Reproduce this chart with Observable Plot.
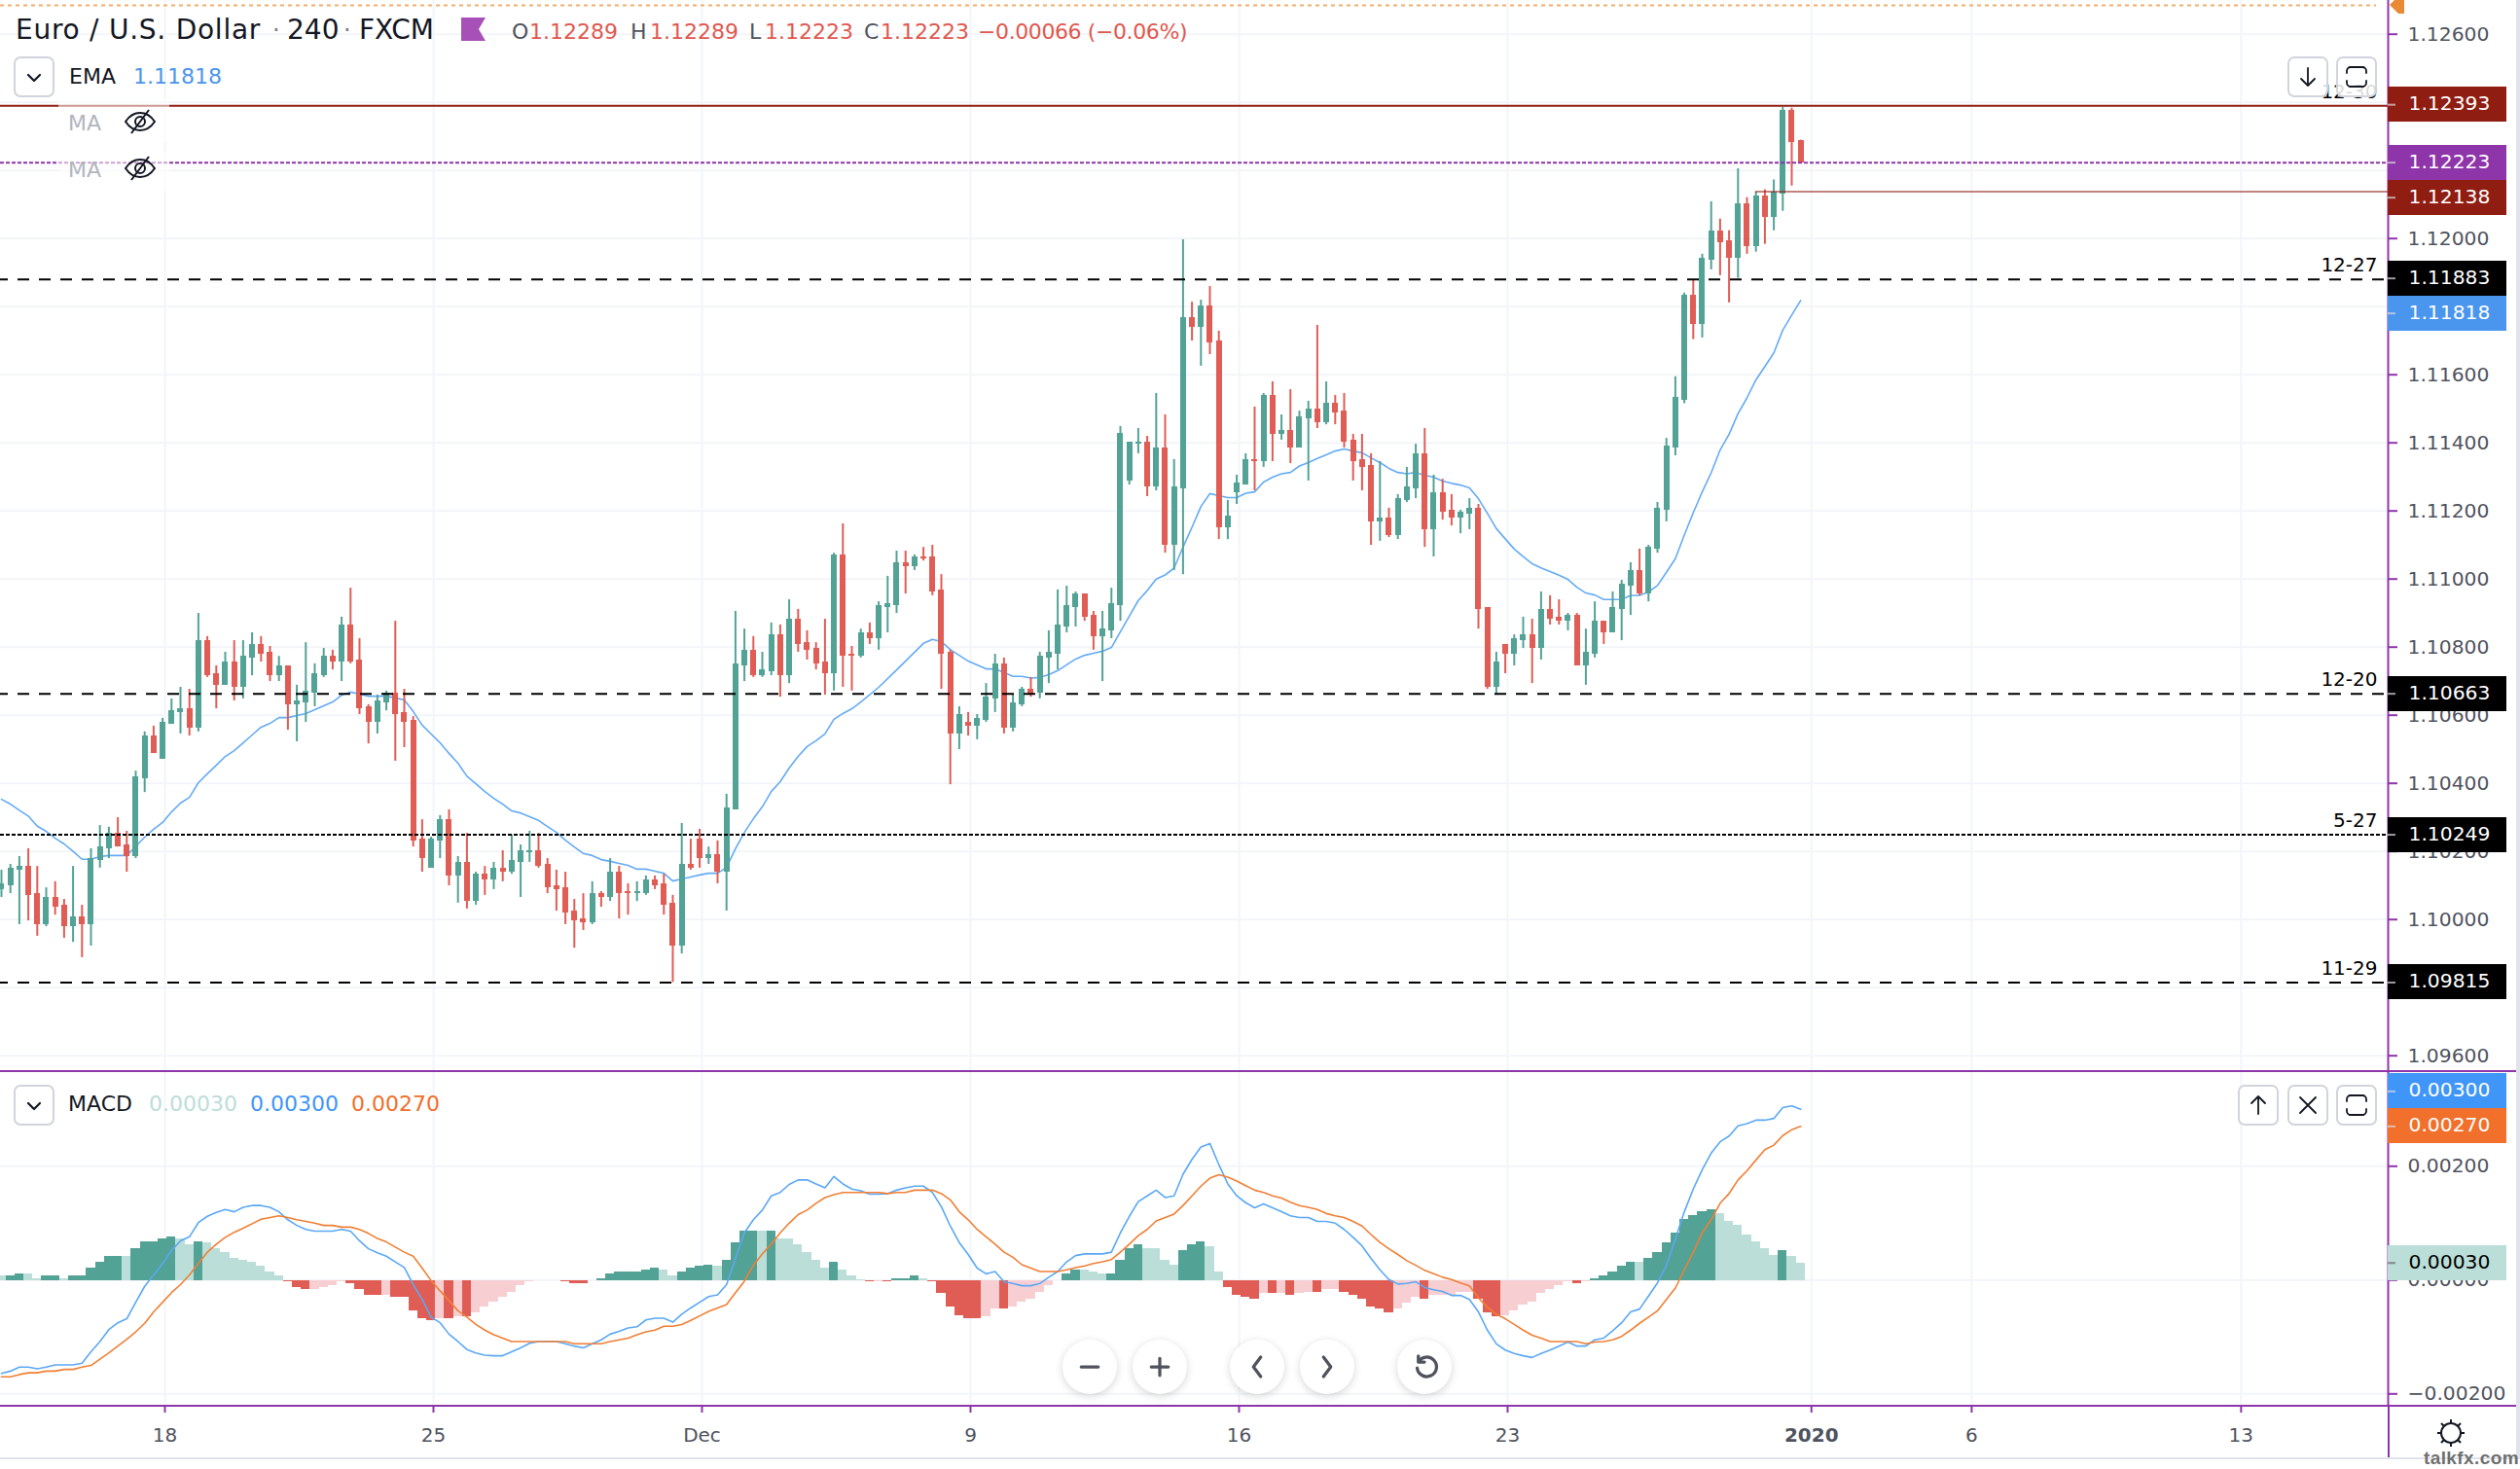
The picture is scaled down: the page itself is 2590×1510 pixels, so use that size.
<!DOCTYPE html>
<html><head><meta charset="utf-8">
<script src="https://cdn.jsdelivr.net/npm/d3@7"></script>
<script src="https://cdn.jsdelivr.net/npm/@observablehq/plot@0.6"></script>
<style>
html,body{margin:0;padding:0;background:#fff}
#page{position:relative;width:2590px;height:1510px;overflow:hidden;background:#fff;font-family:"DejaVu Sans",sans-serif;color:#131722}
#page>div.p{position:absolute;left:0}
.t{position:absolute;white-space:nowrap;line-height:1;z-index:5}
.btn{position:absolute;width:38px;height:38px;border:2px solid #d1d4dc;border-radius:7px;background:rgba(255,255,255,.85);z-index:6;display:flex;align-items:center;justify-content:center}
.line{position:absolute;z-index:4}
.round{position:absolute;width:56px;height:56px;border-radius:50%;background:#fff;box-shadow:0 2px 8px rgba(0,0,0,.16);z-index:6;display:flex;align-items:center;justify-content:center}
svg{display:block}
</style></head><body>
<div id="page">
<div class="p" id="main" style="top:0"></div>
<div class="p" id="macd" style="top:1101px"></div>
</div>
<script>
// All prices are in 1e-5 units (pipettes). One entry per 4-hour bar.
const opens=[110087,110099,110145,110156,110076,109985,110065,110042,109979,110008,
109985,110173,110208,110253,110219,110185,110413,110539,110471,110573,
110608,110619,110562,110819,110722,110688,110756,110682,110768,110808,
110785,110716,110745,110631,110636,110665,110716,110773,110756,110865,
110762,110625,110579,110636,110665,110608,110585,110236,110151,110231,
110293,110128,110168,110053,110133,110116,110151,110139,110168,110196,
110202,110162,110099,110093,110025,110002,109991,110076,110065,110139,
110082,110076,110076,110116,110105,110048,109922,110162,110236,110179,
110191,110139,110322,110745,110791,110716,110728,110836,110716,110882,
110813,110796,110756,110722,111071,110779,110773,110842,110825,110916,
110922,111048,111036,111065,111065,110968,110785,110545,110579,110568,
110585,110648,110751,110562,110631,110676,110665,110768,110779,110859,
110916,110956,110893,110831,110848,110922,111288,111396,111402,111271,
111385,111099,111265,111768,111739,111802,111699,111151,111253,111276,
111351,111345,111539,111425,111436,111385,111471,111499,111459,111516,
111493,111408,111351,111333,111168,111179,111128,111231,111265,111368,
111145,111253,111202,111179,111191,111208,110916,110682,110808,110779,
110819,110836,110796,110911,110888,110876,110893,110745,110779,110876,
110842,110911,110979,111025,110956,111088,111202,111385,111526,111834,
111748,111937,112023,111994,111943,112103,111977,112126,112062,112132,
112377,112289];
const highs=[110145,110162,110185,110208,110156,110093,110111,110059,110156,110042,
110208,110276,110271,110299,110259,110436,110551,110568,110591,110648,
110682,110676,110899,110831,110745,110785,110819,110819,110842,110831,
110802,110773,110745,110688,110813,110751,110796,110791,110888,110973,
110825,110631,110659,110671,110876,110676,110596,110293,110242,110305,
110322,110185,110253,110139,110156,110168,110202,110248,110219,110259,
110253,110179,110145,110139,110059,110076,110111,110082,110179,110156,
110105,110111,110128,110128,110133,110071,110282,110236,110265,110213,
110231,110368,110905,110853,110831,110785,110871,110865,110939,110911,
110848,110813,110882,111076,111162,110802,110853,110871,110933,111008,
111082,111082,111071,111093,111099,111013,110791,110625,110608,110602,
110693,110779,110768,110659,110682,110711,110785,110848,110968,110979,
110962,110956,110905,110905,110973,111448,111402,111442,111419,111545,
111482,111351,111996,111813,111819,111859,111728,111231,111305,111368,
111505,111545,111579,111482,111556,111493,111522,111745,111579,111539,
111545,111425,111425,111368,111345,111208,111248,111328,111396,111442,
111305,111293,111248,111202,111236,111219,110916,110785,110808,110836,
110888,110882,110962,110951,110939,110899,110899,110853,110933,110876,
110962,110996,111048,111088,111099,111225,111413,111594,111840,111877,
111954,112108,112057,112023,112205,112120,112137,112143,112172,112385,
112383,112289];
const lows=[110065,110076,109985,109996,109951,109979,110013,109945,109933,109888,
109922,110151,110179,110213,110139,110179,110373,110488,110471,110573,
110545,110539,110551,110711,110619,110688,110642,110648,110716,110756,
110699,110699,110556,110522,110579,110625,110711,110733,110699,110751,
110602,110516,110545,110613,110465,110505,110213,110139,110151,110179,
110099,110048,110031,110042,110071,110088,110111,110133,110065,110168,
110151,110076,110025,109985,109916,109968,109985,110036,110053,110002,
110013,110053,110071,110088,110013,109815,109899,110145,110151,110162,
110105,110025,110322,110699,110711,110711,110716,110653,110693,110785,
110762,110733,110659,110671,110682,110671,110768,110808,110791,110842,
110899,110956,111025,111053,110951,110676,110396,110499,110539,110528,
110579,110608,110545,110551,110625,110653,110648,110693,110733,110842,
110859,110876,110791,110699,110825,110876,111276,111368,111242,111259,
111076,111025,111013,111699,111625,111659,111116,111116,111219,111276,
111259,111328,111345,111408,111339,111385,111288,111442,111453,111453,
111385,111288,111259,111099,111111,111122,111116,111225,111236,111093,
111065,111173,111156,111133,111145,110853,110676,110659,110722,110745,
110796,110693,110762,110865,110865,110848,110745,110688,110768,110808,
110842,110819,110893,110951,110933,111076,111168,111362,111515,111703,
111708,111908,111891,111811,111883,111954,111960,111983,112023,112080,
112154,112223];
const closes=[110104,110151,110156,110071,109985,110065,110036,109979,110008,109985,
110179,110213,110253,110213,110185,110419,110539,110488,110579,110613,
110619,110562,110819,110716,110688,110756,110682,110773,110808,110779,
110716,110745,110631,110642,110671,110722,110773,110756,110865,110756,
110619,110579,110642,110665,110602,110579,110231,110179,110236,110293,
110128,110168,110053,110133,110116,110151,110139,110173,110202,110202,
110156,110093,110088,110019,109996,109991,110076,110065,110139,110076,
110076,110082,110116,110099,110042,109922,110162,110151,110179,110191,
110139,110328,110751,110791,110716,110733,110836,110716,110882,110808,
110791,110751,110722,111071,110773,110773,110842,110825,110922,110928,
111048,111036,111065,111059,110962,110779,110545,110602,110568,110591,
110653,110751,110562,110636,110676,110659,110773,110785,110865,110922,
110956,110888,110831,110853,110928,111428,111402,111402,111271,111385,
111099,111271,111768,111739,111802,111693,111151,111185,111282,111351,
111345,111539,111425,111436,111385,111476,111499,111459,111516,111488,
111402,111345,111328,111168,111179,111128,111236,111271,111368,111145,
111253,111196,111179,111196,111208,110911,110682,110756,110779,110825,
110836,110796,110911,110882,110876,110893,110745,110785,110876,110842,
110916,110985,111025,110956,111093,111208,111391,111533,111834,111748,
111943,112023,111989,111943,112103,111977,112126,112062,112137,112377,
112281,112223];

// EMA readings: bar number and value
const emaBars=[0,1,2,3,4,5,6,7,8,9,10,11,12,13,14,15,16,17,18,19,20,21,22,23,24,25,26,27,28,29,30,31,32,33,34,35,36,37,38,39,40,41,42,43,44,45,46,47,48,49,50,51,52,53,54,55,56,57,58,59,60,61,62,63,64,65,66,67,68,69,70,71,72,73,74,75,76,77,78,79,80,81,82,83,84,85,86,87,88,89,90,91,92,93,94,95,96,98,100,103,104,105,106,107,108,110,111,113,114,115,116,117,118,119,120,121,122,123,124,125,126,127,128,129,130,131,132,133,134,135,136,137,138,139,140,141,142,143,144,145,146,147,148,149,150,151,152,153,154,155,156,157,158,159,160,161,162,163,164,165,166,167,168,169,170,171,172,173,174,175,176,177,178,179,180,181,182,183,184,185,186,187,188,189,190,191,192,193,194,195,196,197,198,199,200,201];
const emaValues=[110353,110339,110321,110304,110274,110259,110239,110222,110200,110177,110177,110185,110188,110188,110188,110215,110242,110265,110285,110316,110342,110359,110402,110428,110453,110479,110496,110519,110542,110565,110576,110593,110593,110599,110605,110616,110628,110639,110659,110668,110662,110656,110656,110656,110651,110645,110611,110571,110545,110519,110488,110459,110421,110399,110376,110356,110339,110319,110313,110302,110291,110273,110256,110233,110213,110194,110188,110176,110171,110165,110159,110148,110148,110142,110136,110113,110119,110125,110131,110136,110136,110153,110208,110256,110296,110331,110376,110405,110445,110479,110508,110525,110545,110588,110605,110619,110639,110682,110733,110811,110823,110816,110793,110776,110759,110736,110736,110714,110714,110709,110711,110719,110731,110748,110765,110776,110782,110788,110799,110845,110891,110937,110966,111000,111012,111032,111094,111152,111213,111251,111245,111239,111239,111252,111256,111285,111299,111309,111313,111332,111342,111354,111365,111376,111382,111376,111371,111356,111342,111325,111313,111309,111313,111305,111299,111288,111281,111276,111268,111236,111193,111148,111118,111088,111066,111045,111033,111022,111011,110999,110976,110959,110953,110940,110940,110940,110952,110952,110962,110981,111020,111060,111129,111195,111256,111312,111379,111425,111486,111532,111585,111624,111664,111731,111775,111818];

// MACD pane, 1e-5 units, one entry per bar
const histogram=[7,7,10,10,3,7,7,3,7,7,
21,31,41,41,41,55,68,68,72,75,
72,62,68,65,55,48,38,34,31,24,
14,7,-3,-14,-17,-17,-14,-10,-3,-7,
-17,-27,-27,-27,-31,-31,-55,-68,-72,-68,
-68,-65,-65,-58,-48,-38,-31,-21,-10,-3,
-1,-1,-1,-3,-7,-7,-1,3,10,14,
14,14,17,21,17,7,14,21,24,27,
24,34,65,86,86,86,86,72,72,62,
48,34,21,31,17,7,1,-3,-3,-3,
3,3,7,3,-3,-24,-48,-62,-68,-68,
-65,-51,-51,-48,-38,-34,-21,-10,-1,10,
17,17,14,10,10,34,55,62,55,55,
34,27,51,62,68,58,14,-14,-27,-31,
-34,-24,-24,-24,-27,-24,-21,-21,-17,-17,
-21,-27,-34,-48,-51,-58,-51,-41,-31,-34,
-27,-27,-27,-21,-21,-34,-58,-65,-62,-55,
-44,-38,-24,-17,-10,-3,-7,-3,3,7,
14,24,31,31,38,48,65,82,106,113,
120,123,116,103,96,79,68,55,44,51,
41,30];
const histGrowing=[0,1,1,0,0,1,1,0,1,1,
1,1,1,1,0,1,1,1,1,1,
0,0,1,0,0,0,0,0,0,0,
0,0,1,1,1,0,0,0,0,1,
1,1,1,0,1,1,1,1,1,0,
1,0,1,0,0,0,0,0,0,0,
0,0,0,1,1,1,0,1,1,1,
1,1,1,1,0,0,1,1,1,1,
0,1,1,1,1,0,1,0,0,0,
0,0,0,1,0,0,0,1,0,1,
1,1,1,0,1,1,1,1,1,1,
0,0,1,0,0,0,0,0,0,1,
1,0,0,0,1,1,1,1,0,0,
0,0,1,1,1,0,0,1,1,1,
1,0,1,0,1,0,0,1,0,0,
1,1,1,1,1,1,0,0,0,1,
0,0,0,0,0,1,1,1,0,0,
0,0,0,0,0,0,1,0,1,1,
1,1,1,0,1,1,1,1,1,1,
1,1,0,0,0,0,0,0,0,1,
0,0];
const macdLine=[-164,-160,-153,-153,-156,-153,-149,-149,-149,-146,
-126,-108,-87,-75,-68,-39,-11,9,29,52,
69,76,101,112,119,124,120,128,131,131,
128,120,106,96,89,86,86,86,89,86,
69,55,48,42,32,22,-8,-34,-65,-75,
-95,-108,-122,-128,-132,-133,-133,-126,-119,-111,
-108,-108,-108,-112,-116,-119,-112,-105,-95,-90,
-84,-82,-70,-67,-67,-74,-60,-49,-39,-29,
-26,-8,38,83,106,123,148,154,168,176,
176,169,162,182,169,160,157,151,151,152,
158,162,165,165,154,129,95,66,45,21,
11,15,-3,-6,-10,-10,-6,5,15,32,
43,46,46,46,49,83,112,138,148,158,
145,148,186,212,234,240,203,169,148,136,
127,134,127,120,113,110,110,103,103,100,
89,75,60,38,18,1,-7,-6,-3,-13,
-17,-20,-27,-27,-34,-56,-88,-112,-123,-129,
-133,-136,-129,-123,-116,-109,-116,-116,-105,-102,
-89,-75,-56,-51,-28,-5,26,72,120,160,
194,223,243,253,271,275,281,281,284,303,
306,300];
const signalLine=[-170,-170,-166,-163,-163,-160,-160,-157,-157,-153,
-150,-139,-128,-116,-104,-91,-76,-56,-39,-22,
-8,9,29,49,63,75,84,91,99,107,
110,113,110,106,103,100,96,96,93,93,
89,82,73,67,58,49,42,21,-1,-19,
-36,-54,-65,-78,-88,-96,-102,-108,-108,-108,
-108,-108,-108,-108,-112,-112,-112,-112,-108,-105,
-102,-96,-91,-88,-81,-81,-78,-71,-63,-55,
-49,-43,-22,-2,26,46,63,83,100,115,
123,135,145,150,154,154,154,154,154,152,
154,154,158,158,158,152,141,120,106,89,
76,63,49,40,27,21,15,15,15,18,
22,25,29,32,36,49,63,78,89,104,
110,116,131,148,165,179,185,181,174,166,
158,154,148,144,137,131,128,124,117,113,
110,103,95,80,66,55,45,34,26,17,
11,5,1,-5,-10,-31,-48,-60,-68,-78,
-88,-97,-102,-108,-108,-108,-108,-112,-109,-108,
-105,-99,-88,-76,-65,-54,-34,-14,18,49,
83,106,135,152,176,192,211,229,237,254,
264,270];

// Axis ticks
const priceGrid=[109600,109800,110000,110200,110400,110600,110800,111000,111200,111400,111600,111800,112000,112200,112400,112600];
const priceTicks=[109600,109800,110000,110200,110400,110600,110800,111000,111200,111400,111600,112000,112600];
const macdTicks=[-200,0,200];
const timeTicks=[18.26,48.26,78.26,108.26,138.26,168.26,202.2,220.1,250.2];
const timeLabels=["18","25","Dec","9","16","23","2020","6","13"];

// Horizontal levels in the price pane
const levelValues=[112390,111880,110663,110249,109815];
const levelLabels=["12-30","12-27","12-20","5-27","11-29"];
const levelStyles=["solid","dash","dash","dot","dash"];
const lastPrice=112223, prevHigh=112138, prevHighFromBar=196, orangeLevel=112685;

// Axis tags
const priceTagValues=[112393,112223,112138,111883,111818,110663,110249,109815];
const priceTagFills=["#8f1d12","#8e35aa","#8f1d12","#000000","#4a96ee","#000000","#000000","#000000"];
const macdTagValues=[30,270,300];
const macdTagFills=["#bbded9","#f0702c","#3f96f8"];
const macdTagInk=["#000000","#ffffff","#ffffff"];

const TEAL="#53a296",RED="#e05d55",TEAL_L="#bbded9",PINK="#f7cfd3",GRID="#f2f5f9",PURPLE="#8e35aa",AXIS="#50535e";
const FONT='"DejaVu Sans",sans-serif';
const PX=9.2, X0=-1/PX, X1=2453/PX, TAGW=122/PX;
const bars=opens.map((o,i)=>({i,o,h:highs[i],l:lows[i],c:closes[i],up:closes[i]>=o}));
const histRows=histogram.map((v,i)=>({i,v,fill:v>=0?(histGrowing[i]?TEAL:TEAL_L):(histGrowing[i]?RED:PINK)}));
const fmt=v=>(v/1e5).toFixed(5).replace("-","\u2212");

const PPX=0.35, MPX=0.585, TAGH=36;
// axis tags never overlap: neighbours are pushed apart
function fixDown(vals,h){let prev=null;return vals.map(v=>{let c=v;if(prev!==null&&prev-c<h)c=prev-h;prev=c;return c;});}
function fixUp(vals,h){let prev=null;return vals.map(v=>{let c=v;if(prev!==null&&c-prev<h)c=prev+h;prev=c;return c;});}
const pc=fixDown(priceTagValues,TAGH/PPX);
const mc=fixUp(macdTagValues,TAGH/MPX);
const priceTags=priceTagValues.map((v,k)=>({v,c:pc[k],y1:pc[k]-TAGH/2/PPX,y2:pc[k]+TAGH/2/PPX,fill:priceTagFills[k],ink:"#ffffff",t:fmt(v)}));
const macdTags=macdTagValues.map((v,k)=>({v,c:mc[k],y1:mc[k]-TAGH/2/MPX,y2:mc[k]+TAGH/2/MPX,fill:macdTagFills[k],ink:macdTagInk[k],t:fmt(v)}));

const levelRows=levelValues.map((v,k)=>({v,label:levelLabels[k],style:levelStyles[k]}));
const dashRows=levelRows.filter(d=>d.style==="dash"), dotRows=levelRows.filter(d=>d.style==="dot"), solidRows=levelRows.filter(d=>d.style==="solid");
const tagMarks=(tags)=>[
  Plot.rect(tags,{x1:()=>X1,x2:()=>X1+TAGW,y1:"y1",y2:"y2",fill:"fill",shapeRendering:"crispEdges"}),
  Plot.ruleY(tags,{y:"c",x1:()=>X1,x2:()=>X1+8/PX,stroke:d=>d.ink==="#000000"?"#666":"#ddd",strokeWidth:2,strokeOpacity:.7}),
  Plot.text(tags,{x:()=>X1,y:"c",text:"t",fill:"ink",textAnchor:"start",dx:21,dy:-1,fontSize:20.3})
];

const main=Plot.plot({
  width:2590,height:1101,marginLeft:0,marginRight:136,marginTop:0,marginBottom:0,
  style:{fontFamily:FONT,fontSize:"20px",background:"transparent",overflow:"visible"},
  x:{type:"linear",domain:[X0,X1],axis:null},
  y:{type:"linear",domain:[112600-(1101-34.7)/PPX,112600-(0-34.7)/PPX],axis:null},
  color:{type:"identity"},
  marks:[
    Plot.gridY(priceGrid,{stroke:GRID,strokeOpacity:1,strokeWidth:2}),
    Plot.gridX(timeTicks,{stroke:GRID,strokeOpacity:1,strokeWidth:2}),
    Plot.line(emaValues,{x:(d,k)=>emaBars[k],y:d=>d,stroke:"#64abf5",strokeWidth:1.6,curve:"linear"}),
    Plot.ruleX(bars,{x:"i",y1:"l",y2:"h",stroke:d=>d.up?TEAL:RED,strokeWidth:2}),
    Plot.rect(bars,{x1:d=>d.i-3/PX+.05,x2:d=>d.i+3/PX+.05,y1:"o",y2:"c",fill:d=>d.up?TEAL:RED,shapeRendering:"crispEdges"}),
    Plot.ruleY([orangeLevel],{x1:X0,x2:2441/PX,stroke:"#f2ae6c",strokeWidth:2,strokeDasharray:"4,4"}),
    Plot.ruleY(dashRows,{y:"v",stroke:"#000",strokeWidth:2,strokeDasharray:"12,10",strokeDashoffset:4}),
    Plot.ruleY(dotRows,{y:"v",stroke:"#000",strokeWidth:2,strokeDasharray:"4,2"}),
    Plot.ruleY(solidRows,{y:"v",stroke:"#8f1d12",strokeWidth:2}),
    Plot.ruleY([lastPrice],{stroke:PURPLE,strokeWidth:2,strokeDasharray:"4,2"}),
    Plot.ruleY([prevHigh],{x1:prevHighFromBar,x2:X1,stroke:"#8f1d12",strokeOpacity:.55,strokeWidth:2}),
    Plot.text(levelRows,{y:"v",text:"label",frameAnchor:"right",textAnchor:"end",lineAnchor:"bottom",dx:-11,dy:-8,fill:"#000",fontSize:20}),
    Plot.axisY(priceTicks,{anchor:"right",tickSize:9,tickPadding:11,stroke:PURPLE,strokeWidth:2,fill:AXIS,fontSize:20.3,tickFormat:fmt,label:null}),
    Plot.ruleX([X1],{stroke:PURPLE,strokeWidth:2}),
    ...tagMarks(priceTags)
  ]
});
document.getElementById("main").appendChild(main);

const macd=Plot.plot({
  width:2590,height:398,marginLeft:0,marginRight:136,marginTop:0,marginBottom:54,
  style:{fontFamily:FONT,fontSize:"20px",background:"transparent",overflow:"visible"},
  x:{type:"linear",domain:[X0,X1],axis:null},
  y:{type:"linear",domain:[-129.7/MPX,214.3/MPX],axis:null},
  color:{type:"identity"},
  marks:[
    Plot.gridY(macdTicks,{stroke:GRID,strokeOpacity:1,strokeWidth:2}),
    Plot.gridX(timeTicks,{stroke:GRID,strokeOpacity:1,strokeWidth:2}),
    Plot.rect(histRows,{x1:d=>d.i-.5,x2:d=>d.i+.5,y1:()=>-1,y2:"v",fill:"fill",shapeRendering:"crispEdges"}),
    Plot.line(macdLine,{x:(d,k)=>k,y:d=>d,stroke:"#5ba8f5",strokeWidth:1.6,curve:"linear"}),
    Plot.line(signalLine,{x:(d,k)=>k,y:d=>d,stroke:"#f07f35",strokeWidth:1.6,curve:"linear"}),
    Plot.axisY(macdTicks,{anchor:"right",tickSize:9,tickPadding:11,stroke:PURPLE,strokeWidth:2,fill:AXIS,fontSize:20.3,tickFormat:fmt,label:null}),
    Plot.ruleX([X1],{stroke:PURPLE,strokeWidth:2}),
    Plot.axisX(timeTicks.filter((d,k)=>timeLabels[k]!=="2020"),{anchor:"bottom",tickSize:7,tickPadding:15,stroke:PURPLE,strokeWidth:2,fill:AXIS,fontSize:20,label:null,tickFormat:v=>timeLabels[timeTicks.indexOf(v)]}),
    Plot.axisX(timeTicks.filter((d,k)=>timeLabels[k]==="2020"),{anchor:"bottom",tickSize:7,tickPadding:15,stroke:PURPLE,strokeWidth:2,fill:AXIS,fontSize:20,fontWeight:"bold",label:null,tickFormat:v=>timeLabels[timeTicks.indexOf(v)]}),
    ...tagMarks(macdTags)
  ]
});
document.getElementById("macd").appendChild(macd);

// Overlay chrome: legends, buttons, frame lines
const page=document.getElementById("page");
function T(txt,l,cy,size,color,extra){const e=document.createElement("div");e.className="t";e.textContent=txt;e.style.cssText=`left:${l}px;top:${cy-size/2}px;font-size:${size}px;color:${color};${extra||""}`;page.appendChild(e);return e;}
function L(l,t,w,h,c,z){const e=document.createElement("div");e.className="line";e.style.cssText=`left:${l}px;top:${t}px;width:${w}px;height:${h}px;background:${c};${z?`z-index:${z}`:""}`;page.appendChild(e);}
function B(l,t,svg){const e=document.createElement("div");e.className="btn";e.style.left=l+"px";e.style.top=t+"px";e.innerHTML=svg;page.appendChild(e);}
function R(cx,cy,svg){const e=document.createElement("div");e.className="round";e.style.left=(cx-28)+"px";e.style.top=(cy-28)+"px";e.innerHTML=svg;page.appendChild(e);}
const ic=(p,w=24)=>`<svg width="${w}" height="${w}" viewBox="0 0 24 24" fill="none" stroke="#131722" stroke-width="1.8" stroke-linecap="round" stroke-linejoin="round">${p}</svg>`;
const icg=p=>`<svg width="30" height="30" viewBox="0 0 24 24" fill="none" stroke="#50535e" stroke-width="2.6" stroke-linecap="round" stroke-linejoin="round">${p}</svg>`;
const CHEV='<path d="M6 10l6 6 6-6" stroke-width="2.2"/>';
const FULL='<path d="M8 2H6a4 4 0 0 0-4 4v2M16 2h2a4 4 0 0 1 4 4v2M8 22H6a4 4 0 0 1-4-4v-2M16 22h2a4 4 0 0 0 4-4v-2"/><path d="M5 2h14M5 22h14"/>';

L(0,1100,2586,2,PURPLE);
L(0,1444,2586,2,PURPLE);
L(2454,1446,2,52,PURPLE);
L(0,1498,2586,2,"#e0e3eb");
L(2586,0,4,1500,"#e0e3eb");
// legend backings over the level lines
L(60,102,114,44,"rgba(255,255,255,.55)",3);
L(60,156,114,40,"rgba(255,255,255,.55)",3);

// top legend
T("Euro / U.S. Dollar",16,31,28,"#131722","letter-spacing:.75px");
T("·",280,31,24,"#787b86");
T("240",295,31,28,"#131722");
T("·",353,31,24,"#787b86");
T("FXCM",369,31,28,"#131722");
const flag=document.createElement("div");flag.style.cssText="position:absolute;left:474px;top:18px;z-index:5";
flag.innerHTML='<svg width="26" height="24"><path d="M0 0H25L18 12L25 24H0Z" fill="#a750b8"/></svg>';page.appendChild(flag);
const ohlc=[["O",526],["1.12289",544],["H",648],["1.12289",668],["L",770],["1.12223",786],["C",888],["1.12223",905],["\u22120.00066 (\u22120.06%)",1005]];
ohlc.forEach(([s,l])=>T(s,l,33,22,s.length===1?AXIS:"#e0584f",s.length>8?"letter-spacing:-.4px":""));
B(14,58,ic(CHEV));
T("EMA",71,79,22,"#131722");
T("1.11818",137,79,22,"#4a96ee");
T("MA",70,127,22,"#b2b5be");
T("MA",70,175,22,"#b2b5be");
const EYE='<svg width="34" height="26" viewBox="0 0 34 26" fill="none" stroke="#131722" stroke-width="2"><path d="M2 13c4-6 9-9 15-9s11 3 15 9c-4 6-9 9-15 9s-11-3-15-9z"/><circle cx="17" cy="13" r="5"/><path d="M26 1L8 25"/></svg>';
[[127,125],[127,173]].forEach(([l,c])=>{const e=document.createElement("div");e.style.cssText=`position:absolute;left:${l}px;top:${c-13}px;z-index:5`;e.innerHTML=EYE;page.appendChild(e);});
B(2351,58,ic('<path d="M12 3v18M5 14l7 7 7-7"/>'));
B(2401,58,ic(FULL));
const corner=document.createElement("div");corner.style.cssText="position:absolute;left:2456px;top:0;z-index:5";
corner.innerHTML='<svg width="16" height="15"><path d="M0 5L5 0H15V14H9Z" fill="#ea8a35"/></svg>';page.appendChild(corner);

// MACD legend
B(14,1115,ic(CHEV));
T("MACD",70,1135,22,"#131722");
T("0.00030",153,1135,22,"#bbded9");
T("0.00300",257,1135,22,"#3f96f8");
T("0.00270",361,1135,22,"#f0702c");
B(2300,1115,ic('<path d="M12 21V3M5 10l7-7 7 7"/>'));
B(2351,1115,ic('<path d="M4 4l16 16M20 4L4 20"/>'));
B(2401,1115,ic(FULL));

// floating controls
R(1120,1404.5,icg('<path d="M5 12h14"/>'));
R(1192,1404.5,icg('<path d="M5 12h14M12 5v14"/>'));
R(1292,1404.5,icg('<path d="M15 4l-6 8 6 8"/>'));
R(1364,1404.5,icg('<path d="M9 4l6 8-6 8"/>'));
R(1464,1404.5,icg('<path d="M7 8a8 8 0 1 1-1 5M7 3v5h5"/>'));

// gear and mark
const gear=document.createElement("div");gear.style.cssText="position:absolute;left:2503px;top:1457px;z-index:5";
gear.innerHTML='<svg width="32" height="32" viewBox="0 0 32 32" fill="none" stroke="#131722" stroke-width="2"><circle cx="16" cy="16" r="10"/><path d="M16 2v4M16 26v4M2 16h4M26 16h4M6 6l3 3M23 23l3 3M26 6l-3 3M9 23l-3 3"/></svg>';page.appendChild(gear);
T("talkfx.com",2491,1498,19,"#6f6f6f","font-weight:bold;font-family:'Liberation Sans',sans-serif;z-index:7;letter-spacing:.4px");
</script>
</body></html>
